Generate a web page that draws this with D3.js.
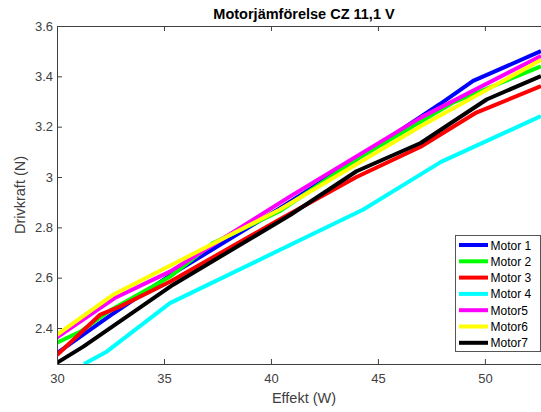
<!DOCTYPE html>
<html>
<head>
<meta charset="utf-8">
<script src="https://cdn.jsdelivr.net/npm/d3@7"></script>
<style>
  html, body { margin: 0; padding: 0; background: #fff; }
  svg { display: block; }
  text { font-family: "Liberation Sans", Arial, Helvetica, sans-serif; }
</style>
</head>
<body>
<svg id="chart" width="541" height="412"></svg>
<script>
// Measured operating points per motor: power (W) and thrust (N)
const names = ["Motor 1", "Motor 2", "Motor 3", "Motor 4", "Motor5", "Motor6", "Motor7"];
const colors = ["#0000ff", "#00ff00", "#ff0000", "#00ffff", "#ff00ff", "#ffff00", "#000000"];

const motor1W = [30, 32.5, 35.3, 40.4, 44.0, 47.9, 49.45, 52.62];
const motor1N = [2.30, 2.45, 2.61, 2.875, 3.07, 3.29, 3.382, 3.50];

const motor2W = [30, 31.1, 32.5, 35.3, 37.3, 40.4, 44.0, 48.5, 52.62];
const motor2N = [2.342, 2.386, 2.471, 2.605, 2.738, 2.864, 3.07, 3.295, 3.44];

const motor3W = [30, 32.0, 32.94, 35.3, 40.4, 44.0, 47.0, 49.6, 52.62];
const motor3N = [2.293, 2.452, 2.485, 2.585, 2.831, 3.0, 3.12, 3.256, 3.361];

const motor4W = [31.26, 32.32, 35.28, 44.32, 47.95, 52.62];
const motor4N = [2.257, 2.306, 2.499, 2.871, 3.06, 3.242];

const motor5W = [30, 32.7, 35.3, 40.9, 47.0, 52.62];
const motor5N = [2.363, 2.519, 2.625, 2.923, 3.236, 3.481];

const motor6W = [30, 32.6, 40.4, 47.0, 52.62];
const motor6N = [2.373, 2.531, 2.87, 3.202, 3.465];

const motor7W = [30, 31.23, 35.43, 40.9, 44.0, 47.0, 50.08, 52.62];
const motor7N = [2.262, 2.326, 2.572, 2.849, 3.023, 3.135, 3.308, 3.401];

const xTicks = [30, 35, 40, 45, 50];
const yTicks = [2.4, 2.6, 2.8, 3, 3.2, 3.4, 3.6];

const seriesW = [motor1W, motor2W, motor3W, motor4W, motor5W, motor6W, motor7W];
const seriesN = [motor1N, motor2N, motor3N, motor4N, motor5N, motor6N, motor7N];

const svg = d3.select("#chart");
// The axes box runs a little past the right edge of the figure
const plotLeft = 57, plotRight = 551, plotTop = 26, plotBottom = 364;
const axisColor = "#404040";

const x = d3.scaleLinear().domain([30, 53.09]).range([plotLeft, plotRight]);
const y = d3.scaleLinear().domain([2.257, 3.6]).range([plotBottom, plotTop]);

svg.append("defs").append("clipPath").attr("id", "plotClip")
  .append("rect").attr("x", plotLeft).attr("y", plotTop)
  .attr("width", plotRight - plotLeft).attr("height", plotBottom - plotTop);

// Data lines
const line = d3.line().x(d => x(d[0])).y(d => y(d[1]));
const plot = svg.append("g").attr("clip-path", "url(#plotClip)");
seriesW.forEach((ws, i) => {
  const pts = ws.map((w, j) => [w, seriesN[i][j]]);
  plot.append("path")
    .attr("d", line(pts))
    .attr("fill", "none")
    .attr("stroke", colors[i])
    .attr("stroke-width", 4)
    .attr("stroke-linejoin", "round");
});

// Axes with inward ticks
const xAxis = svg.append("g").attr("transform", `translate(0,${plotBottom})`)
  .call(d3.axisBottom(x).tickValues(xTicks).tickSizeInner(-5).tickSizeOuter(0).tickPadding(10));
const yAxis = svg.append("g").attr("transform", `translate(${plotLeft},0)`)
  .call(d3.axisLeft(y).tickValues(yTicks).tickFormat(d3.format("")).tickSizeInner(-5).tickSizeOuter(0).tickPadding(4));
const xTop = svg.append("g").attr("transform", `translate(0,${plotTop})`)
  .call(d3.axisTop(x).tickValues(xTicks).tickSizeInner(-5).tickSizeOuter(0).tickFormat(""));

[xAxis, yAxis, xTop].forEach(g => {
  g.select(".domain").attr("stroke", axisColor).attr("stroke-width", 1);
  g.selectAll(".tick line").attr("stroke", axisColor);
  g.selectAll(".tick text").attr("fill", axisColor).style("font-size", "13px");
});

// Titles
const midX = (plotLeft + plotRight) / 2;
svg.append("text")
  .attr("x", midX).attr("y", 19)
  .attr("text-anchor", "middle")
  .style("font-size", "14.5px").style("font-weight", "bold")
  .attr("fill", "#000")
  .text("Motorjämförelse CZ 11,1 V");

svg.append("text")
  .attr("x", midX).attr("y", 403)
  .attr("text-anchor", "middle")
  .style("font-size", "14.5px")
  .attr("fill", axisColor)
  .text("Effekt (W)");

svg.append("text")
  .attr("transform", `translate(25,${(plotTop + plotBottom) / 2}) rotate(-90)`)
  .attr("text-anchor", "middle")
  .style("font-size", "14.5px")
  .attr("fill", axisColor)
  .text("Drivkraft (N)");

// Legend
const lg = svg.append("g");
lg.append("rect")
  .attr("x", 455.5).attr("y", 235.5)
  .attr("width", 85).attr("height", 116)
  .attr("fill", "#fff").attr("stroke", "#555").attr("stroke-width", 1);
names.forEach((n, i) => {
  const ry = 245 + i * 16.3;
  lg.append("line")
    .attr("x1", 459).attr("x2", 488).attr("y1", ry).attr("y2", ry)
    .attr("stroke", colors[i]).attr("stroke-width", 4);
  lg.append("text")
    .attr("x", 490.5).attr("y", ry + 4.5)
    .style("font-size", "12px").attr("fill", "#000")
    .text(n);
});
</script>
</body>
</html>
